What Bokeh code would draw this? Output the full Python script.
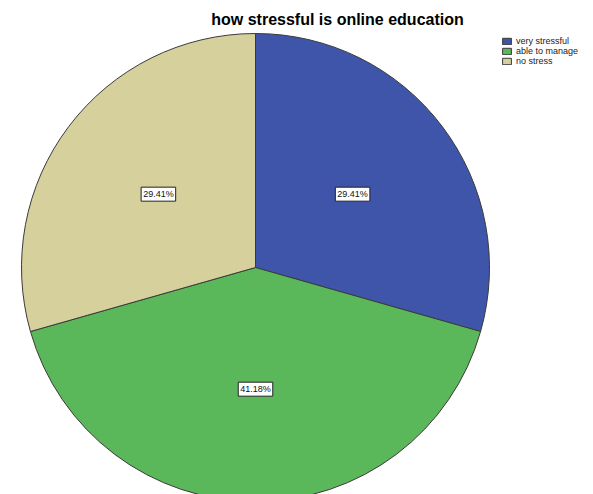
import math
from bokeh.plotting import figure
from bokeh.models import ColumnDataSource, Range1d, Legend, LegendItem, Label
from bokeh.core.properties import value
from bokeh.embed import file_html
from bokeh.resources import INLINE

title_text = "how stressful is online education"
categories = ["very stressful", "able to manage", "no stress"]
percent = [29.41, 41.18, 29.41]
colors = ["#3f55aa", "#5bb85a", "#d6d09c"]

W, H = 593, 494
cx, cy = 255, H - 267
r = 234

total = sum(percent)
starts, ends, lx, ly, labels = [], [], [], [], []
a = math.pi / 2
for v in percent:
    sweep = 2 * math.pi * v / total
    s, e = a, a - sweep
    starts.append(s)
    ends.append(e)
    mid = (s + e) / 2
    lx.append(cx + 0.52 * r * math.cos(mid))
    ly.append(cy + 0.52 * r * math.sin(mid))
    labels.append(f"{v:.2f}%")
    a = e

src = ColumnDataSource(dict(cat=categories, start=starts, end=ends, color=colors,
                            lx=lx, ly=ly, label=labels))

p = figure(width=W, height=H, output_backend="svg", toolbar_location=None,
           x_range=Range1d(0, W), y_range=Range1d(0, H), min_border=0,
           outline_line_color=None, background_fill_color="white")
p.axis.visible = False
p.grid.visible = False

wr = p.wedge(x=cx, y=cy, radius=r, start_angle="end", end_angle="start",
             fill_color="color", line_color="#3a3a3a", line_width=1, source=src)

p.text(x="lx", y="ly", text="label", source=src, text_align="center",
       text_baseline="middle", text_font_size="9px", text_font=value("Liberation Sans"),
       text_color="#111111",
       background_fill_color="white", border_line_color="#222222",
       border_line_width=1, padding=2)

p.add_layout(Label(x=337, y=H - 19, text=title_text, text_align="center",
                   text_baseline="middle", text_font_size="16px", text_color="black",
                   text_font_style="bold", text_font="Liberation Sans"))

legend = Legend(items=[LegendItem(label=c, renderers=[wr], index=i) for i, c in enumerate(categories)],
                location=(501, H - 66), orientation="vertical",
                label_text_font_size="9px", label_text_font="Liberation Sans",
                label_text_color="#222222",
                glyph_width=11, glyph_height=8, label_height=8, label_standoff=4,
                spacing=0, padding=0, margin=0, border_line_color=None,
                background_fill_alpha=0)
p.add_layout(legend)

open("out.html", "w").write(file_html(p, INLINE))
